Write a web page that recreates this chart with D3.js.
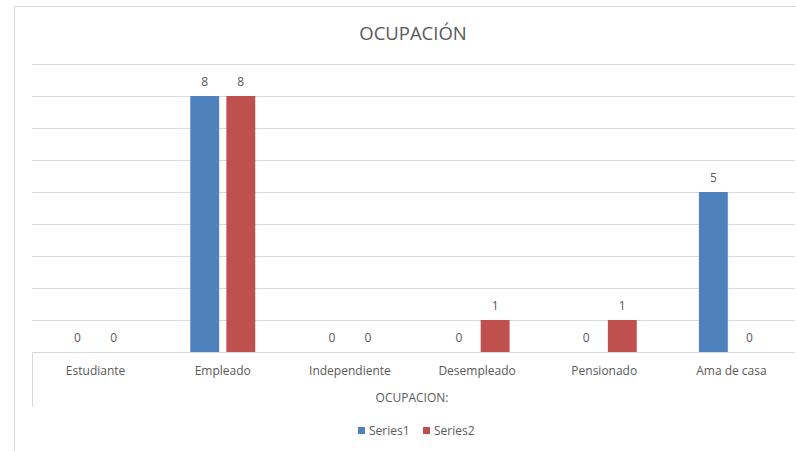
<!DOCTYPE html>
<html><head><meta charset="utf-8">
<script src="https://cdn.jsdelivr.net/npm/d3@7"></script>
<style>body{margin:0;background:#fff}svg{display:block}text{font-family:"Open Sans",sans-serif;fill:#595959}</style>
</head><body><svg id="c" width="796" height="451"></svg>
<script>
const categories = ["Estudiante","Empleado","Independiente","Desempleado","Pensionado","Ama de casa"];
const seriesNames = ["Series1","Series2"];
const series1 = [0,8,0,0,0,5];
const series2 = [0,8,0,1,1,0];
const yTicks = [0,1,2,3,4,5,6,7,8,9];
const colors = ["#4f81bd","#c0504d"];

const svg = d3.select("#c");
const pLeft = 32, pRight = 795, pTop = 64, pBottom = 352;
svg.append("rect").attr("x",14.5).attr("y",6.5).attr("width",800).attr("height",500)
  .attr("fill","none").attr("stroke","#d9d9d9").attr("stroke-width",1);

const x0 = d3.scaleBand().domain(categories).range([pLeft,pRight]);
const x1 = d3.scaleBand().domain(seriesNames).range([0,65]).paddingInner(0.2);
const y = d3.scaleLinear().domain([0,9]).range([pBottom,pTop]);

svg.append("g").selectAll("line").data(yTicks.slice(1)).join("line")
  .attr("x1",pLeft).attr("x2",pRight).attr("y1",d=>Math.round(y(d))+0.5).attr("y2",d=>Math.round(y(d))+0.5)
  .attr("stroke","#d9d9d9");

const data = [series1, series2];
const g = svg.append("g");
seriesNames.forEach((s,i)=>{
  categories.forEach((c,j)=>{
    const v = data[i][j];
    const bx = x0(c) + x0.bandwidth()/2 - 32.5 + x1(s);
    if (v>0) g.append("rect").attr("x",bx).attr("y",y(v)).attr("width",x1.bandwidth()).attr("height",y(0)-y(v)).attr("fill",colors[i]);
    g.append("text").attr("x",bx+x1.bandwidth()/2).attr("y",y(v)-10.5).attr("text-anchor","middle")
      .attr("font-size",12).text(v);
  });
});

svg.append("line").attr("x1",pLeft).attr("x2",pRight).attr("y1",pBottom+0.5).attr("y2",pBottom+0.5).attr("stroke","#d9d9d9");
svg.append("line").attr("x1",pLeft+0.5).attr("x2",pLeft+0.5).attr("y1",pBottom).attr("y2",407).attr("stroke","#d9d9d9");

const xAxis = svg.append("g").attr("transform",`translate(0,${pBottom})`).call(d3.axisBottom(x0).tickSize(0).tickPadding(14));
xAxis.select(".domain").remove();
xAxis.selectAll("text").attr("font-size",12).attr("font-family","Open Sans").attr("fill","#595959");

svg.append("text").attr("x",413).attr("y",40).attr("text-anchor","middle").attr("font-size",18.5).text("OCUPACIÓN");
svg.append("text").attr("x",412).attr("y",402).attr("text-anchor","middle").attr("font-size",12).text("OCUPACION:");

const lg = svg.append("g");
const lx = [358, 423];
seriesNames.forEach((s,i)=>{
  lg.append("rect").attr("x",lx[i]).attr("y",427).attr("width",7).attr("height",7).attr("fill",colors[i]);
  lg.append("text").attr("x",lx[i]+11).attr("y",434.5).attr("font-size",12).text(s);
});
</script></body></html>
